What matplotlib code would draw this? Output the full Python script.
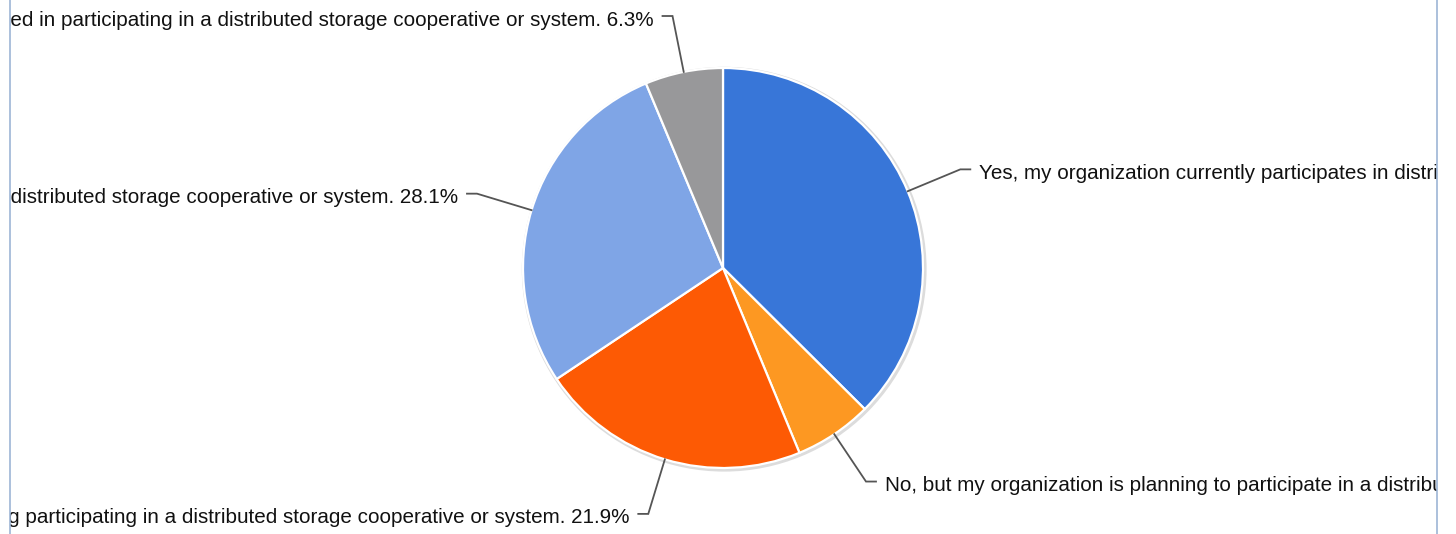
import numpy as np
import matplotlib
matplotlib.use("Agg")
import matplotlib.pyplot as plt
from matplotlib.transforms import Bbox, TransformedBbox
from matplotlib.lines import Line2D
from matplotlib.patches import Circle

categories = [
    "Yes, my organization currently participates in distributed storage cooperative or system.",
    "No, but my organization is planning to participate in a distributed storage cooperative or system.",
    "No, and my organization is not considering participating in a distributed storage cooperative or system.",
    "No, but my organization is considering participating in a distributed storage cooperative or system.",
    "No, my organization is not interested in participating in a distributed storage cooperative or system.",
]
values = [37.5, 6.3, 21.9, 28.1, 6.3]
colors = ["#3876D8", "#FD9822", "#FD5A04", "#7FA5E6", "#98989A"]

W, H = 1456, 534
cx, cy, R = 723, 268, 200  # pixel layout of the pie

plt.rcParams['font.family'] = ['Liberation Sans', 'DejaVu Sans']
fig = plt.figure(figsize=(W / 100, H / 100), dpi=100)
ax = fig.add_axes([0, 0, 1, 1])

# soft shadow ring
ax.add_patch(Circle((0.006, -0.006), 1.012, color="#dcdcdc", zorder=0, lw=0))

wedges, _ = ax.pie(values, colors=colors, startangle=90, counterclock=False,
                   radius=1.0, center=(0, 0), frame=False,
                   wedgeprops=dict(edgecolor="white", linewidth=1.6))
ax.set_xlim(-cx / R, (W - cx) / R)
ax.set_ylim(-(H - cy) / R, cy / R)
ax.set_aspect('auto')
ax.axis('off')

clip = TransformedBbox(Bbox([[10 / W, 0], [1437 / W, 1]]), ax.transAxes)

for w, cat, v in zip(wedges, categories, values):
    ang = np.deg2rad((w.theta1 + w.theta2) / 2)
    x0, y0 = np.cos(ang) * 1.0, np.sin(ang) * 1.0
    x1, y1 = np.cos(ang) * 1.285, np.sin(ang) * 1.285
    side = 1 if x1 > 0 else -1
    x2 = x1 + side * 0.05
    ax.add_line(Line2D([x0, x1, x2], [y0, y1, y1], color="#555555", lw=1.3,
                       solid_joinstyle='miter', zorder=3))
    t = ax.text(x2 + side * 0.045, y1 - 0.02, f"{cat} {v:.1f}%",
                ha='left' if side > 0 else 'right', va='center',
                fontsize=14.9, color="#111111", zorder=4)
    t.set_clip_box(clip)
    t.set_clip_on(True)

for xp in (10, 1437):
    fig.add_artist(Line2D([xp / W, xp / W], [0, 1], transform=fig.transFigure,
                          color="#9DB5D6", lw=1.2))

fig.savefig("out.png", dpi=100, facecolor="white")
